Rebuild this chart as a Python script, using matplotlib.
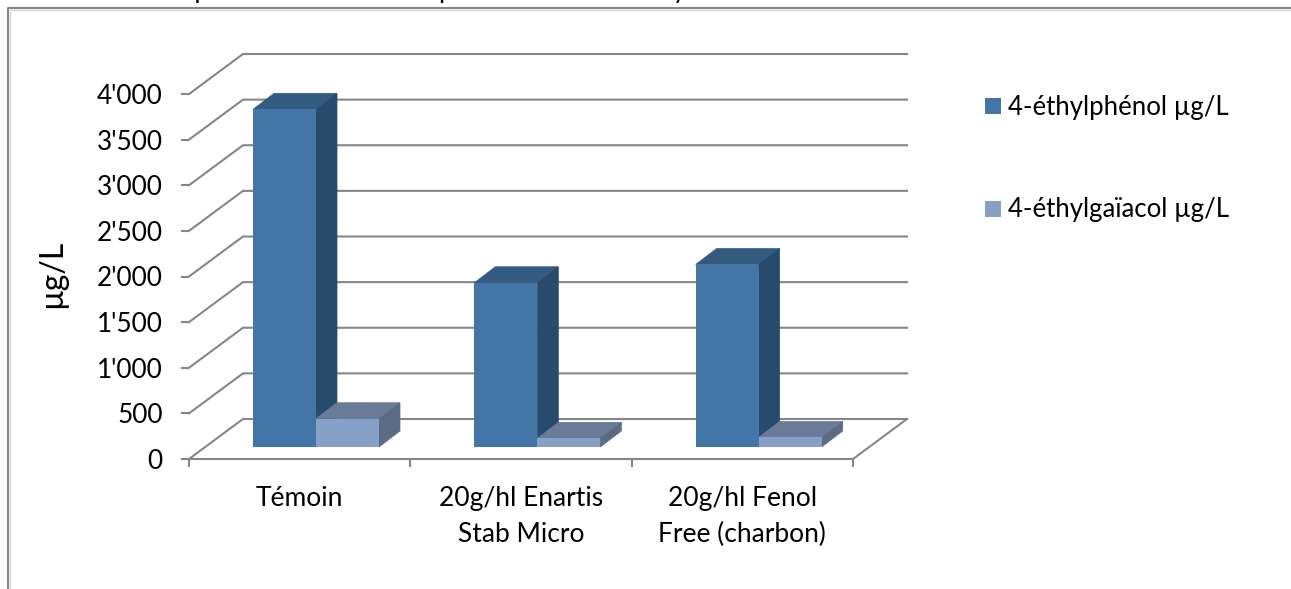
import matplotlib
matplotlib.use("Agg")
import matplotlib.pyplot as plt
from matplotlib.patches import Polygon, Rectangle
from matplotlib.lines import Line2D

categories = ["Témoin", "20g/hl Enartis\nStab Micro", "20g/hl Fenol\nFree (charbon)"]
phenol = [3700, 1800, 2000]
gaiacol = [310, 95, 105]
y_ticks = [0, 500, 1000, 1500, 2000, 2500, 3000, 3500, 4000]
y_labels = ["0", "500", "1'000", "1'500", "2'000", "2'500", "3'000", "3'500", "4'000"]
series_names = ["4-éthylphénol µg/L", "4-éthylgaïacol µg/L"]
title = "Comparaison des taux en phénols volatils analysés"

W, H = 1291, 589
plt.rcParams["font.family"] = ["Lato", "DejaVu Sans"]

GREY = "#868686"
C1, C1_TOP, C1_SIDE = "#4375a6", "#335a80", "#274b6d"
C2, C2_TOP, C2_SIDE = "#86a0c8", "#6a7b98", "#5b6b83"

fig = plt.figure(figsize=(W / 100, H / 100), dpi=100)


def box(x0, y0, x1, y1):
    # pixels from the top left -> figure fraction
    return [x0 / W, 1 - y1 / H, (x1 - x0) / W, (y1 - y0) / H]


ax = fig.add_axes(box(189, 94, 853, 459))
ax.set_xlim(0, 3)
ax.set_ylim(0, 4000)
ax.patch.set_visible(False)
for s in ax.spines.values():
    s.set_visible(False)

# pixel sizes in data units
px_x = 3 / 664
px_y = 4000 / 365

wall_dx, wall_dy = 54 * px_x, 40 * px_y
floor_dx, floor_dy = 16 * px_x, 12 * px_y
depth_dx, depth_dy = 21 * px_x, 16 * px_y
bar_w = 63 * px_x

# outer frame of the chart, runs off the picture at the bottom and right
fig.add_artist(Line2D([9.5 / W, 9.5 / W, 1], [0, 1 - 9.5 / H, 1 - 9.5 / H], color="#d4d4d4", lw=1))
fig.add_artist(Line2D([8 / W, 8 / W, 1], [0, 1 - 8 / H, 1 - 8 / H], color=GREY, lw=1.5))
# title cut by the top edge
fig.text(140 / W, 1 + 2 / H, title, fontsize=19, ha="left", va="baseline", color="black")

# back wall and side wall grid
for v in y_ticks:
    ax.plot([0, wall_dx, 3 + wall_dx], [v, v + wall_dy, v + wall_dy], color=GREY, lw=1.5,
            clip_on=False, solid_joinstyle="miter", zorder=1)
ax.plot([0, 3], [0, 0], color=GREY, lw=1.5, clip_on=False, zorder=1)
ax.plot([3, 3 + wall_dx], [0, wall_dy], color=GREY, lw=1.5, clip_on=False, zorder=1)


def draw_bar(x, v, front, top, side, z):
    x += floor_dx
    b = floor_dy
    ax.add_patch(Polygon([(x, v + b), (x + bar_w, v + b), (x + bar_w + depth_dx, v + b + depth_dy),
                          (x + depth_dx, v + b + depth_dy)], fc=top, ec=top, lw=0.5,
                         clip_on=False, zorder=z))
    ax.add_patch(Polygon([(x + bar_w, b), (x + bar_w + depth_dx, b + depth_dy),
                          (x + bar_w + depth_dx, v + b + depth_dy), (x + bar_w, v + b)],
                         fc=side, ec=side, lw=0.5, clip_on=False, zorder=z))
    ax.bar(x, v, bar_w, bottom=b, align="edge", color=front, clip_on=False, zorder=z + 0.1)


for i in range(len(categories)):
    left = i + 48 * px_x
    draw_bar(left, phenol[i], C1, C1_TOP, C1_SIDE, 2)
    draw_bar(left + bar_w, gaiacol[i], C2, C2_TOP, C2_SIDE, 3)

ax.set_yticks(y_ticks)
ax.set_yticklabels(y_labels, fontsize=18.8)
ax.set_xticks([0, 1, 2, 3])
ax.set_xticklabels([])
ax.tick_params(axis="both", color=GREY, width=1.5, length=6, pad=13)

for i, c in enumerate(categories):
    ax.text(i + 0.5, -295, c, fontsize=19, ha="center", va="top", linespacing=1.55)

fig.text(52 / W, 1 - 274 / H, "µg/L", fontsize=23, rotation=90, ha="center", va="center")

# legend
for y, name, col in zip([106, 209], series_names, [C1, C2]):
    fig.add_artist(Rectangle((985 / W, 1 - (y + 8) / H), 16 / W, 16 / H, fc=col, ec="none",
                             transform=fig.transFigure))
    fig.text(1008 / W, 1 - (y + 1) / H, name, fontsize=18.5, ha="left", va="center")

fig.savefig("out.png", dpi=100)
